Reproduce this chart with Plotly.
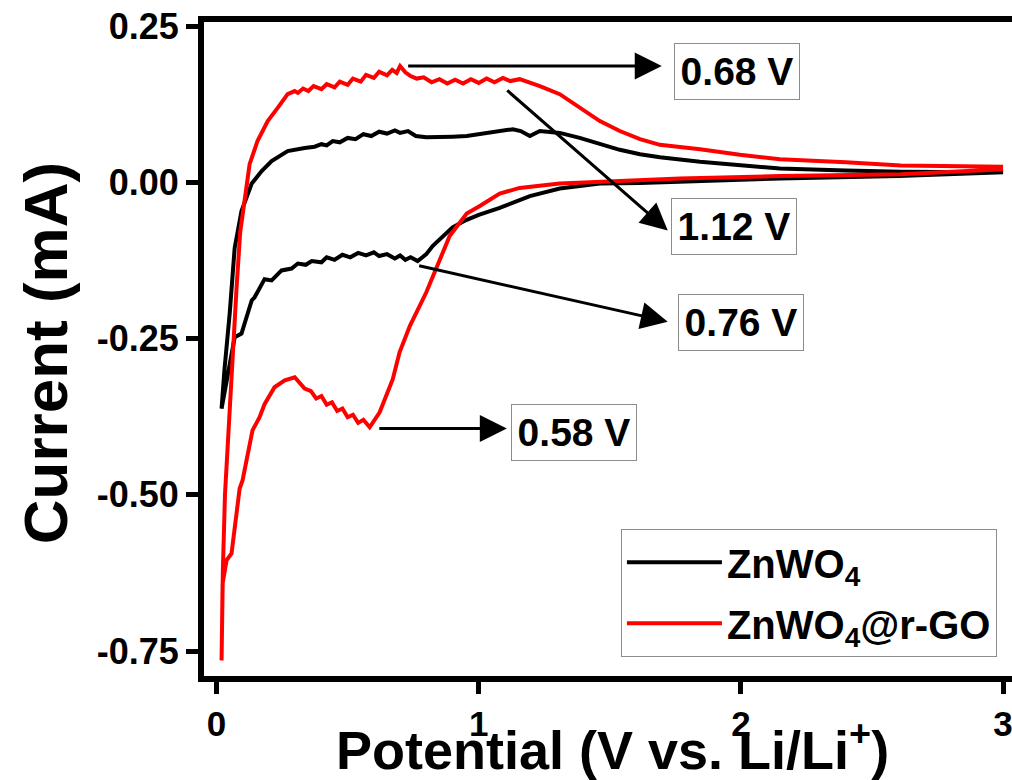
import plotly.graph_objects as go

# ---------------- data ----------------
# ZnWO4: cathodic scan (3 V -> 0.02 V) followed by anodic scan (0.02 V -> 3 V)
znwo4_v = [3.00, 2.60, 2.149, 1.89, 1.615, 1.462, 1.309, 1.195, 1.08, 1.00, 0.954, 0.90, 0.86,
           0.824, 0.80, 0.78, 0.767, 0.74, 0.72, 0.70, 0.68, 0.65, 0.62, 0.60, 0.57, 0.54,
           0.51, 0.48, 0.45, 0.42, 0.40, 0.363, 0.34, 0.31, 0.286, 0.248, 0.21, 0.183,
           0.145, 0.134, 0.095, 0.069, 0.045, 0.030, 0.019,
           0.030, 0.050, 0.069, 0.095, 0.134, 0.172, 0.210, 0.271, 0.336, 0.374,
           0.40, 0.42, 0.443, 0.47, 0.50, 0.53, 0.56, 0.59, 0.62, 0.65, 0.68,
           0.70, 0.73, 0.76, 0.80, 0.824, 0.87, 0.90, 0.954, 1.004, 1.05, 1.10, 1.13, 1.16,
           1.195, 1.233, 1.27, 1.309, 1.385, 1.462, 1.538, 1.615, 1.691, 1.844, 1.996, 2.149,
           2.40, 2.61, 3.00]
znwo4_i = [0.016, 0.010, 0.006, 0.002, -0.001, -0.002, -0.010, -0.022, -0.041, -0.052, -0.060,
           -0.072, -0.088, -0.102, -0.115, -0.122, -0.126, -0.120, -0.124, -0.117, -0.122,
           -0.115, -0.118, -0.112, -0.117, -0.113, -0.120, -0.116, -0.124, -0.120, -0.128,
           -0.126, -0.132, -0.130, -0.138, -0.141, -0.157, -0.155, -0.184, -0.189, -0.242,
           -0.248, -0.300, -0.335, -0.362,
           -0.300, -0.210, -0.105, -0.046, -0.002, 0.018, 0.034, 0.050, 0.055, 0.057,
           0.061, 0.059, 0.066, 0.064, 0.071, 0.069, 0.077, 0.074, 0.081,
           0.078, 0.083, 0.079, 0.082, 0.074, 0.072, 0.072, 0.072, 0.073, 0.074, 0.077, 0.080,
           0.083, 0.085, 0.082, 0.074, 0.082, 0.080, 0.079, 0.071, 0.061, 0.052, 0.045, 0.040,
           0.033, 0.027, 0.022, 0.019, 0.017, 0.016]

# ZnWO4@r-GO
rgo_v = [3.00, 2.61, 2.149, 1.767, 1.538, 1.309, 1.156, 1.08, 1.004, 0.954, 0.889, 0.851, 0.80,
         0.737, 0.698, 0.672, 0.622, 0.584, 0.56, 0.54, 0.52, 0.50, 0.48, 0.46, 0.44, 0.42,
         0.40, 0.38, 0.36, 0.336, 0.32, 0.298, 0.26, 0.221, 0.183, 0.164, 0.137, 0.115,
         0.099, 0.088, 0.070, 0.057, 0.038, 0.023, 0.019,
         0.024, 0.032, 0.042, 0.050, 0.061, 0.076, 0.090, 0.107, 0.126, 0.156, 0.195, 0.233,
         0.271, 0.298, 0.31, 0.33, 0.35, 0.37, 0.40, 0.42, 0.45, 0.47, 0.50, 0.52, 0.55,
         0.57, 0.60, 0.62, 0.65, 0.67, 0.687, 0.70, 0.72, 0.74, 0.763, 0.79, 0.82, 0.85,
         0.88, 0.91, 0.94, 0.97, 1.00, 1.03, 1.06, 1.092, 1.12, 1.156, 1.233, 1.309, 1.385,
         1.462, 1.538, 1.615, 1.691, 1.844, 1.996, 2.149, 2.40, 2.61, 3.00]
rgo_i = [0.021, 0.013, 0.010, 0.006, 0.002, -0.002, -0.009, -0.018, -0.038, -0.050, -0.086,
         -0.123, -0.176, -0.230, -0.272, -0.315, -0.368, -0.392, -0.380, -0.385, -0.372,
         -0.376, -0.362, -0.366, -0.352, -0.356, -0.342, -0.346, -0.334, -0.330, -0.322,
         -0.312, -0.317, -0.328, -0.355, -0.376, -0.397, -0.445, -0.477, -0.490, -0.550,
         -0.594, -0.605, -0.642, -0.765,
         -0.620, -0.500, -0.420, -0.360, -0.260, -0.170, -0.080, -0.025, 0.029, 0.066, 0.098,
         0.119, 0.141, 0.146, 0.143, 0.150, 0.146, 0.154, 0.149, 0.157, 0.152, 0.161, 0.156,
         0.166, 0.161, 0.172, 0.167, 0.177, 0.171, 0.180, 0.175, 0.186, 0.176, 0.170, 0.166,
         0.168, 0.160, 0.165, 0.158, 0.164, 0.158, 0.165, 0.159, 0.166, 0.160, 0.167, 0.162,
         0.165, 0.154, 0.141, 0.119, 0.098, 0.082, 0.069, 0.060, 0.053, 0.044, 0.037, 0.032,
         0.027, 0.025, 0.021]

series_names = ["<b>ZnWO<sub>4</sub></b>", "<b>ZnWO<sub>4</sub>@r-GO</b>"]
series_colors = ["#000000", "#FF0000"]

# peak labels: text, arrow tail (on curve), arrow head, label centre
peak_labels = ["0.68 V", "1.12 V", "0.76 V", "0.58 V"]
arrow_tail = [(0.725, 0.186), (1.103, 0.149), (0.767, -0.133), (0.615, -0.394)]
arrow_head = [(1.698, 0.186), (1.721, -0.077), (1.721, -0.223), (1.107, -0.394)]
label_pos = [(1.986, 0.177), (1.973, -0.0705), (2.002, -0.2236), (1.364, -0.400)]

x_ticks = [0, 1, 2, 3]
y_ticks = [0.25, 0.00, -0.25, -0.50, -0.75]
y_ticklabels = ["0.25", "0.00", "-0.25", "-0.50", "-0.75"]

FONT = "Liberation Sans, Arial, sans-serif"

fig = go.Figure()
fig.add_trace(go.Scatter(x=znwo4_v, y=znwo4_i, mode="lines", name=series_names[0],
                         legendgroup="a", line=dict(color=series_colors[0], width=4)))
fig.add_trace(go.Scatter(x=rgo_v, y=rgo_i, mode="lines", name=series_names[1],
                         legendgroup="b", line=dict(color=series_colors[1], width=4)))

annotations = []
for txt, (tx, ty), (hx, hy), (lx, ly) in zip(peak_labels, arrow_tail, arrow_head, label_pos):
    annotations.append(dict(x=hx, y=hy, ax=tx, ay=ty, xref="x", yref="y", axref="x", ayref="y",
                            text="", showarrow=True, arrowhead=2, arrowsize=1.8, arrowwidth=3,
                            arrowcolor="black", standoff=0, startstandoff=0))
    annotations.append(dict(x=lx, y=ly, xref="x", yref="y", text="<b>%s</b>" % txt,
                            showarrow=False, font=dict(family=FONT, size=39, color="black"),
                            bordercolor="#8c8c8c", borderwidth=1, bgcolor="white",
                            width=122, height=53, align="center", valign="middle"))

annotations.append(dict(x=0.505, y=-0.107, xref="paper", yref="paper",
                        text="<b>Potential (V vs. Li/Li<sup>+</sup>)</b>", showarrow=False,
                        font=dict(family=FONT, size=54, color="black"), xanchor="center",
                        yanchor="middle"))
annotations.append(dict(x=-0.196, y=0.493, xref="paper", yref="paper",
                        text="<b>Current (mA)</b>", showarrow=False, textangle=-90,
                        font=dict(family=FONT, size=62, color="black"), xanchor="center",
                        yanchor="middle"))

fig.update_layout(
    width=1012, height=780,
    margin=dict(l=204, r=0, t=22, b=104),
    paper_bgcolor="white", plot_bgcolor="white",
    showlegend=True,
    legend=dict(x=0.516, y=0.225, xanchor="left", yanchor="top",
                bgcolor="white", bordercolor="#8c8c8c", borderwidth=1,
                font=dict(family=FONT, size=40, color="black"), itemwidth=95,
                traceorder="grouped", tracegroupgap=6),
    annotations=annotations,
    font=dict(family=FONT, color="black"),
)
fig.update_xaxes(range=[-0.048, 3.034], tickvals=x_ticks, ticktext=["<b>%d</b>" % v for v in x_ticks],
                 showline=True, linecolor="black", linewidth=6, mirror=True,
                 ticks="outside", ticklen=12, tickwidth=5, tickcolor="black",
                 tickfont=dict(family=FONT, size=35, color="black"),
                 ticklabeloverflow="allow",
                 showgrid=False, zeroline=False)
fig.update_yaxes(range=[-0.790, 0.2565], tickvals=y_ticks, ticktext=["<b>%s</b>" % t for t in y_ticklabels],
                 showline=True, linecolor="black", linewidth=6, mirror=False,
                 ticks="outside", ticklen=12, tickwidth=5, tickcolor="black",
                 tickfont=dict(family=FONT, size=36, color="black"),
                 showgrid=False, zeroline=False)

fig.write_html("out.html")
